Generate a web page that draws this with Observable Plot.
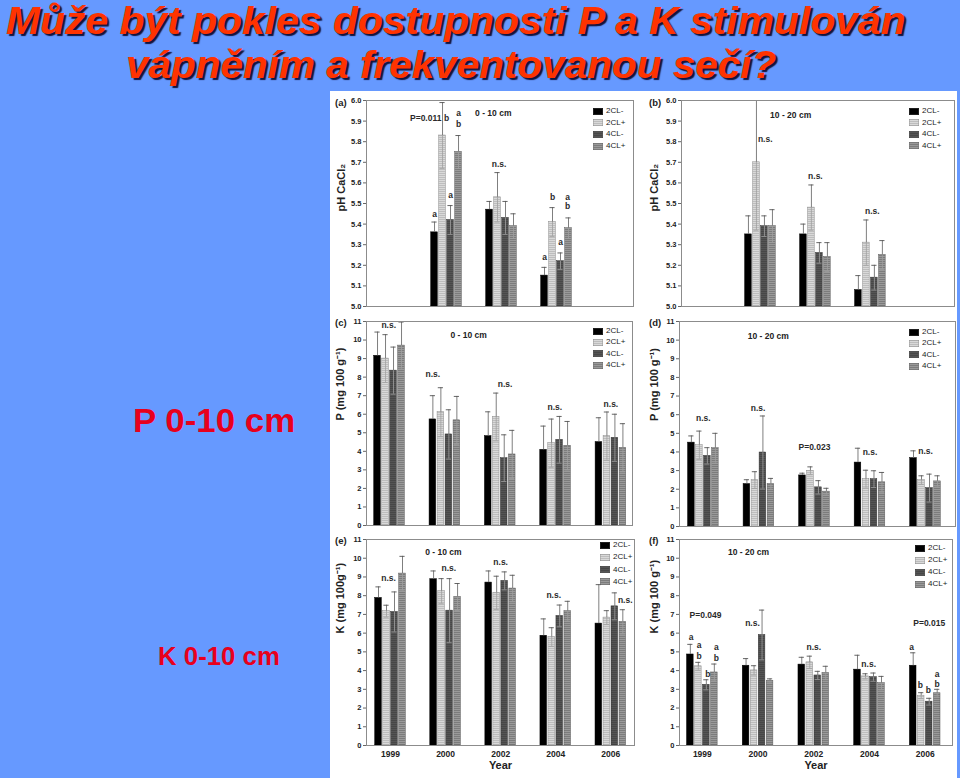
<!DOCTYPE html>
<html>
<head>
<meta charset="utf-8">
<script src="https://cdn.jsdelivr.net/npm/d3@7"></script>
<script src="https://cdn.jsdelivr.net/npm/@observablehq/plot@0.6"></script>
<style>
html, body { margin: 0; padding: 0; }
body { width: 960px; height: 778px; background: #6699ff; position: relative; overflow: hidden; font-family: "Liberation Sans", Arial, Helvetica, sans-serif; }
.line { position: absolute; white-space: nowrap; font-weight: bold; font-style: italic; font-size: 38px; line-height: 38px; color: #ff3300; text-shadow: 2px 2px 1px #14143c; transform-origin: 0 0; }
.side { position: absolute; white-space: nowrap; font-weight: bold; color: #e8001c; transform-origin: 0 0; }
#figure { position: absolute; left: 330px; top: 91px; width: 627px; height: 687px; background: #ffffff; }
.panel { position: absolute; }
.letter { position: absolute; font-size: 9.5px; font-weight: bold; color: #222; line-height: 10px; white-space: nowrap; }
.lg { position: absolute; font-size: 8px; color: #222; line-height: 8px; white-space: nowrap; }
.lg svg { position: absolute; left: 0; top: 0; }
.lg span { position: absolute; top: 0; }
</style>
</head>
<body>
<svg width="0" height="0" style="position:absolute;left:0;top:0">
  <defs>
    <pattern id="hatchLight" width="4" height="2" patternUnits="userSpaceOnUse"><rect width="4" height="2" fill="#d9d9d9"/><rect width="4" height="1" fill="#bdbdbd"/></pattern>
    <pattern id="hatchDark" width="4" height="2" patternUnits="userSpaceOnUse"><rect width="4" height="2" fill="#555555"/><rect width="4" height="1" fill="#474747"/></pattern>
    <pattern id="hatchMid" width="4" height="2" patternUnits="userSpaceOnUse"><rect width="4" height="2" fill="#9a9a9a"/><rect width="4" height="1" fill="#7c7c7c"/></pattern>
  </defs>
</svg>
<div id="figure"></div>
<script>
// ---------- data ----------
const years = ["1999", "2000", "2002", "2004", "2006"];
const series = ["2CL-", "2CL+", "4CL-", "4CL+"];
const phYears = ["2000", "2002", "2004"];
const phTicks = [5.0, 5.1, 5.2, 5.3, 5.4, 5.5, 5.6, 5.7, 5.8, 5.9, 6.0];
const nutrientTicks = [0, 1, 2, 3, 4, 5, 6, 7, 8, 9, 10, 11];

// (a) pH CaCl2, 0-10 cm  (rows: years, cols: series)
const phTopMean = [[5.36, 5.83, 5.42, 5.75], [5.47, 5.53, 5.43, 5.39], [5.15, 5.41, 5.22, 5.38]];
const phTopSE   = [[0.05, 0.16, 0.07, 0.08], [0.04, 0.12, 0.08, 0.06], [0.04, 0.07, 0.04, 0.05]];
// (b) pH CaCl2, 10-20 cm
const phSubMean = [[5.35, 5.70, 5.39, 5.39], [5.35, 5.48, 5.26, 5.24], [5.08, 5.31, 5.14, 5.25]];
const phSubSE   = [[0.09, 0.33, 0.05, 0.08], [0.05, 0.11, 0.05, 0.07], [0.07, 0.11, 0.06, 0.07]];
// (c) P 0-10 cm
const pTopMean = [[9.15, 9.00, 8.35, 9.70], [5.72, 6.11, 4.91, 5.67], [4.82, 5.85, 3.63, 3.83], [4.08, 4.44, 4.62, 4.30], [4.50, 4.82, 4.73, 4.19]];
const pTopSE   = [[1.28, 1.29, 1.27, 1.27], [1.28, 1.32, 1.33, 1.29], [1.31, 1.29, 1.26, 1.30], [1.28, 1.30, 1.26, 1.31], [1.31, 1.30, 1.27, 1.30]];
// (d) P 10-20 cm
const pSubMean = [[4.50, 4.36, 3.79, 4.20], [2.28, 2.49, 3.97, 2.28], [2.74, 2.99, 2.10, 1.87], [3.43, 2.54, 2.54, 2.37], [3.67, 2.49, 2.06, 2.42]];
const pSubSE   = [[0.36, 0.76, 0.44, 0.80], [0.23, 0.45, 1.96, 0.30], [0.12, 0.21, 0.36, 0.18], [0.77, 0.48, 0.45, 0.53], [0.39, 0.23, 0.75, 0.30]];
// (e) K 0-10 cm
const kTopMean = [[7.88, 7.17, 7.13, 9.18], [8.88, 8.24, 7.20, 7.93], [8.70, 8.15, 8.79, 8.38], [5.86, 5.79, 6.92, 7.17], [6.51, 6.83, 7.43, 6.60]];
const kTopSE   = [[0.59, 0.32, 1.07, 0.92], [0.44, 0.67, 1.71, 0.72], [0.62, 0.89, 0.48, 0.71], [0.90, 0.50, 0.58, 0.53], [2.08, 0.37, 0.72, 0.65]];
// (f) K 10-20 cm
const kSubMean = [[4.86, 4.23, 3.24, 3.90], [4.26, 4.01, 5.90, 3.45], [4.32, 4.44, 3.74, 3.87], [4.05, 3.69, 3.65, 3.33], [4.26, 2.66, 2.34, 2.79]];
const kSubSE   = [[0.54, 0.21, 0.27, 0.45], [0.38, 0.25, 1.33, 0.11], [0.39, 0.33, 0.22, 0.36], [0.77, 0.14, 0.22, 0.36], [0.69, 0.16, 0.18, 0.21]];

// significance labels: [year, position in bar slots, y value, text]
const notesA = [["2000", -1.1, 5.915, "P=0.011"], ["2000", 0, 5.45, "a"], ["2000", 1.5, 5.915, "b"], ["2000", 2, 5.54, "a"], ["2000", 3, 5.94, "a"], ["2000", 3, 5.885, "b"], ["2002", 1.2, 5.69, "n.s."], ["2004", 0, 5.24, "a"], ["2004", 1, 5.53, "b"], ["2004", 2, 5.31, "a"], ["2004", 2.9, 5.53, "a"], ["2004", 2.9, 5.485, "b"]];
const notesB = [["2000", 2.1, 5.81, "n.s."], ["2002", 1.5, 5.63, "n.s."], ["2004", 1.75, 5.46, "n.s."]];
const notesC = [["1999", 1.4, 10.8, "n.s."], ["2000", 0, 8.18, "n.s."], ["2002", 2.1, 7.6, "n.s."], ["2004", 1.4, 6.35, "n.s."], ["2006", 1.5, 6.56, "n.s."]];
const notesD = [["1999", 1.5, 5.8, "n.s."], ["2000", 1.4, 6.32, "n.s."], ["2002", 1.5, 4.27, "P=0.023"], ["2004", 1.5, 4.0, "n.s."], ["2006", 1.5, 4.02, "n.s."]];
const notesE = [["1999", 1.25, 8.95, "n.s."], ["2000", 1.9, 9.45, "n.s."], ["2002", 1.5, 9.77, "n.s."], ["2004", 1.25, 8.02, "n.s."], ["2006", 3.3, 7.75, "n.s."]];
const notesF = [["1999", 1.9, 6.96, "P=0.049"], ["1999", 0.1, 5.79, "a"], ["1999", 1.1, 5.34, "a"], ["1999", 1.1, 4.77, "b"], ["1999", 2.2, 3.78, "b"], ["1999", 3.25, 5.22, "a"], ["1999", 3.25, 4.68, "b"], ["2000", 0.8, 6.51, "n.s."], ["2002", 1.5, 5.22, "n.s."], ["2004", 1.4, 4.35, "n.s."], ["2006", 2, 6.51, "P=0.015"], ["2006", -0.2, 5.27, "a"], ["2006", 0.9, 3.22, "b"], ["2006", 1.9, 2.97, "b"], ["2006", 3, 3.81, "a"], ["2006", 3, 3.27, "b"]];

const titleLines = ["Může být pokles dostupnosti P a K stimulován", "vápněním a frekventovanou sečí?"];
const sideLabels = ["P 0-10 cm", "K 0-10 cm"];

// ---------- styles ----------
const fills = ["#000000", "url(#hatchLight)", "url(#hatchDark)", "url(#hatchMid)"];
const strokes = ["#000000", "#8a8a8a", "#333333", "#5a5a5a"];

const panels = [
  {letter: "(a)", means: phTopMean, ses: phTopSE, yrs: phYears, notes: notesA, depth: "0 - 10 cm", depthX: 1.85, depthDy: 9,
   left: 330, top: 91, width: 307, height: 219, ml: 36, mr: 4, mt: 9, mb: 4, xd: [-0.455, 4.40], yd: [5, 6], ticks: phTicks, fmt: ".1f",
   ylab: "pH CaCl₂", ylx: -25, yly: 8, showYears: false, lx: 335, ly: 98, leg: [593, 111, 11.7]},
  {letter: "(b)", means: phSubMean, ses: phSubSE, yrs: phYears, notes: notesB, depth: "10 - 20 cm", depthX: 1.55, depthDy: 11,
   left: 643, top: 91, width: 314, height: 219, ml: 38, mr: 3, mt: 9, mb: 4, xd: [-0.436, 4.53], yd: [5, 6], ticks: phTicks, fmt: ".1f",
   ylab: "pH CaCl₂", ylx: -27, yly: 8, showYears: false, lx: 649, ly: 98, leg: [909, 111, 11.5]},
  {letter: "(c)", means: pTopMean, ses: pTopSE, yrs: years, notes: notesC, depth: "0 - 10 cm", depthX: 1.43, depthDy: 10,
   left: 330, top: 312, width: 306, height: 217, ml: 36, mr: 4, mt: 9, mb: 4, xd: [-0.416, 4.39], yd: [0, 11], ticks: nutrientTicks, fmt: "d",
   ylab: "P (mg 100 g⁻¹)", ylx: -26, yly: -3, showYears: false, lx: 335, ly: 318, leg: [593, 331, 11.4]},
  {letter: "(d)", means: pSubMean, ses: pSubSE, yrs: years, notes: notesD, depth: "10 - 20 cm", depthX: 1.17, depthDy: 11,
   left: 643, top: 312, width: 314, height: 218, ml: 36, mr: 2, mt: 9, mb: 4, xd: [-0.43, 4.54], yd: [0, 11], ticks: nutrientTicks, fmt: "d",
   ylab: "P (mg 100 g⁻¹)", ylx: -25, yly: -3, showYears: false, lx: 649, ly: 318, leg: [909, 332, 11.4]},
  {letter: "(e)", means: kTopMean, ses: kTopSE, yrs: years, notes: notesE, depth: "0 - 10 cm", depthX: 0.96, depthDy: 9,
   left: 330, top: 530, width: 308, height: 248, ml: 36, mr: 4, mt: 9, mb: 33, xd: [-0.436, 4.43], yd: [0, 11], ticks: nutrientTicks, fmt: "d",
   ylab: "K (mg 100g⁻¹)", ylx: -26, yly: -9, showYears: true, lx: 335, ly: 536, leg: [600, 545, 12.3]},
  {letter: "(f)", means: kSubMean, ses: kSubSE, yrs: years, notes: notesF, depth: "10 - 20 cm", depthX: 0.83, depthDy: 9,
   left: 643, top: 530, width: 314, height: 248, ml: 36, mr: 5, mt: 9, mb: 33, xd: [-0.41, 4.49], yd: [0, 11], ticks: nutrientTicks, fmt: "d",
   ylab: "K (mg 100 g⁻¹)", ylx: -25, yly: -9, showYears: true, lx: 649, ly: 536, leg: [915, 548, 12]}
];

function makePanel(cfg) {
  const data = [];
  cfg.yrs.forEach((yr, r) => series.forEach((name, s) => data.push({year: yr, yi: years.indexOf(yr), s, name, mean: cfg.means[r][s], se: cfg.ses[r][s]})));
  const fw = cfg.width - cfg.ml - cfg.mr;
  const unit = fw / (cfg.xd[1] - cfg.xd[0]);
  const step = 8 / unit, bw = 6.6 / unit, cap = 2.6 / unit;
  const cx = d => d.yi + (d.s - 1.5) * step;
  const base = cfg.yd[0];
  const marks = [];
  series.forEach((name, s) => {
    marks.push(Plot.rectY(data.filter(d => d.s === s), {
      x1: d => cx(d) - bw / 2, x2: d => cx(d) + bw / 2, y1: base, y2: "mean",
      fill: fills[s], stroke: strokes[s], strokeWidth: 0.5
    }));
  });
  const inner = data.filter(d => d.s > 0);
  marks.push(Plot.ruleX(inner, {x: cx, y1: d => d.mean - d.se, y2: "mean", stroke: "#a0a0a0", strokeWidth: 0.8}));
  marks.push(Plot.ruleY(inner, {y: d => d.mean - d.se, x1: d => cx(d) - cap, x2: d => cx(d) + cap, stroke: "#a0a0a0", strokeWidth: 0.8}));
  marks.push(Plot.ruleX(data, {x: cx, y1: "mean", y2: d => d.mean + d.se, stroke: "#707070", strokeWidth: 0.9, clip: true}));
  marks.push(Plot.ruleY(data, {y: d => d.mean + d.se, x1: d => cx(d) - cap, x2: d => cx(d) + cap, stroke: "#555555", strokeWidth: 0.9, clip: true}));
  marks.push(Plot.text(cfg.notes, {
    x: n => years.indexOf(n[0]) + (n[1] - 1.5) * step, y: n => n[2], text: n => n[3],
    fontSize: 8.5, fontWeight: "bold", fill: "#2a2a2a"
  }));
  marks.push(Plot.text([{t: cfg.depth, x: cfg.depthX}], {x: "x", text: "t", frameAnchor: "top", dy: cfg.depthDy, fontSize: 8.5, fontWeight: "bold", fill: "#222"}));
  marks.push(Plot.text([cfg.ylab], {frameAnchor: "left", rotate: -90, dx: cfg.ylx, dy: cfg.yly, fontSize: 11, fontWeight: "bold", fill: "#222"}));
  marks.push(Plot.axisY(cfg.ticks, {tickSize: 3, tickPadding: 2, tickFormat: cfg.fmt, fontSize: 7.5, fontWeight: "bold", stroke: "#666", label: null}));
  if (cfg.showYears) {
    marks.push(Plot.axisX(years.map((y, i) => i), {tickFormat: i => years[i], tickSize: 0, tickPadding: 5, fontSize: 8.5, fontWeight: "bold", label: null}));
    marks.push(Plot.text(["Year"], {frameAnchor: "bottom", dy: 23, fontSize: 11, fontWeight: "bold", fill: "#222"}));
  }
  marks.push(Plot.frame({stroke: "#8c8c8c"}));

  const svg = Plot.plot({
    width: cfg.width, height: cfg.height,
    marginLeft: cfg.ml, marginRight: cfg.mr, marginTop: cfg.mt, marginBottom: cfg.mb,
    x: {domain: cfg.xd, axis: null},
    y: {domain: cfg.yd, axis: null},
    style: {background: "transparent", fontFamily: "'Liberation Sans', Arial, sans-serif", fontWeight: "bold", fontSize: "7.5px", color: "#222", overflow: "visible"},
    marks
  });
  const wrap = document.createElement("div");
  wrap.className = "panel";
  wrap.style.left = cfg.left + "px";
  wrap.style.top = cfg.top + "px";
  wrap.appendChild(svg);
  document.body.appendChild(wrap);

  const letter = document.createElement("div");
  letter.className = "letter";
  letter.style.left = cfg.lx + "px";
  letter.style.top = cfg.ly + "px";
  letter.textContent = cfg.letter;
  document.body.appendChild(letter);

  const [lx, ly, gap] = cfg.leg;
  series.forEach((name, s) => {
    const row = document.createElement("div");
    row.className = "lg";
    row.style.left = lx + "px";
    row.style.top = (ly + s * gap - 4) + "px";
    row.innerHTML = `<svg width="10" height="7" style="top:0.5px"><rect x="0.25" y="0.25" width="9.5" height="6.5" fill="${fills[s]}" stroke="${strokes[s]}" stroke-width="0.5"/></svg><span style="left:13px">${name}</span>`;
    document.body.appendChild(row);
  });
}

panels.forEach(makePanel);

// ---------- slide texts ----------
function addText(cls, text, left, right, top, size) {
  const el = document.createElement("div");
  el.className = cls;
  el.textContent = text;
  if (size) { el.style.fontSize = size + "px"; el.style.lineHeight = size + "px"; }
  el.style.top = top + "px";
  el.style.left = left + "px";
  document.body.appendChild(el);
  const w = el.offsetWidth;
  el.style.transform = `scaleX(${(right - left) / w})`;
}
addText("line", titleLines[0], 6, 906, 2);
addText("line", titleLines[1], 126, 776, 46);
addText("side", sideLabels[0], 133, 295, 403, 34);
addText("side", sideLabels[1], 158, 280, 643, 26);
</script>
</body>
</html>
